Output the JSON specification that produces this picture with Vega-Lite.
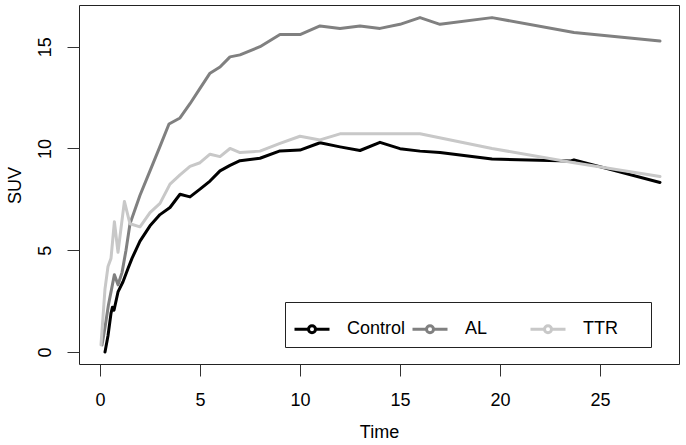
{
  "$schema": "https://vega.github.io/schema/vega-lite/v6.json",
  "width": 600,
  "height": 359,
  "autosize": {"type": "none"},
  "padding": {"left": 79, "top": 5, "right": 7, "bottom": 81},
  "config": {
    "font": "Liberation Sans",
    "view": {"stroke": "#222222", "strokeWidth": 1},
    "axis": {
      "grid": false,
      "domain": false,
      "tickColor": "#333333",
      "tickSize": 12,
      "labelFont": "Liberation Sans",
      "labelFontSize": 18,
      "labelColor": "#000000",
      "titleFont": "Liberation Sans",
      "titleFontSize": 18,
      "titleFontWeight": "normal",
      "titleColor": "#000000"
    },
    "legend": {
      "orient": "none",
      "legendX": 206,
      "legendY": 297,
      "direction": "horizontal",
      "columns": 3,
      "gridAlign": "all",
      "columnPadding": 0,
      "padding": 8,
      "strokeColor": "#222222",
      "fillColor": "#ffffff",
      "labelFont": "Liberation Sans",
      "labelFontSize": 18,
      "labelColor": "#000000",
      "labelOffset": 16,
      "titleOrient": "right",
      "titleFontSize": 18,
      "titlePadding": 25,
      "symbolType": "M-1,0H-0.2M0.2,0H1M0.2,0A0.2,0.2 0 1 1 -0.2,0A0.2,0.2 0 1 1 0.2,0",
      "symbolSize": 1225,
      "symbolStrokeWidth": 3,
      "symbolFillColor": "#ffffff"
    }
  },
  "data": {
    "values": [
      {"group": "Control", "time": 0.25, "suv": 0.0},
      {"group": "Control", "time": 0.4, "suv": 0.8},
      {"group": "Control", "time": 0.55, "suv": 1.9},
      {"group": "Control", "time": 0.62, "suv": 2.2},
      {"group": "Control", "time": 0.7, "suv": 2.05},
      {"group": "Control", "time": 0.9, "suv": 2.95},
      {"group": "Control", "time": 1.15, "suv": 3.45},
      {"group": "Control", "time": 1.4, "suv": 4.1},
      {"group": "Control", "time": 1.6, "suv": 4.6},
      {"group": "Control", "time": 2.0, "suv": 5.45},
      {"group": "Control", "time": 2.5, "suv": 6.2},
      {"group": "Control", "time": 3.0, "suv": 6.75},
      {"group": "Control", "time": 3.5, "suv": 7.1},
      {"group": "Control", "time": 4.0, "suv": 7.75},
      {"group": "Control", "time": 4.5, "suv": 7.62},
      {"group": "Control", "time": 5.0, "suv": 8.0},
      {"group": "Control", "time": 5.5, "suv": 8.4},
      {"group": "Control", "time": 6.0, "suv": 8.9},
      {"group": "Control", "time": 6.5, "suv": 9.17},
      {"group": "Control", "time": 7.0, "suv": 9.4},
      {"group": "Control", "time": 8.0, "suv": 9.52},
      {"group": "Control", "time": 9.0, "suv": 9.88},
      {"group": "Control", "time": 10.0, "suv": 9.92},
      {"group": "Control", "time": 11.0, "suv": 10.28},
      {"group": "Control", "time": 12.0, "suv": 10.08},
      {"group": "Control", "time": 13.0, "suv": 9.9},
      {"group": "Control", "time": 14.0, "suv": 10.3},
      {"group": "Control", "time": 15.0, "suv": 9.99},
      {"group": "Control", "time": 16.0, "suv": 9.87},
      {"group": "Control", "time": 17.0, "suv": 9.8},
      {"group": "Control", "time": 19.6, "suv": 9.48},
      {"group": "Control", "time": 23.5, "suv": 9.38},
      {"group": "Control", "time": 23.7, "suv": 9.44},
      {"group": "Control", "time": 28.0, "suv": 8.33},
      {"group": "AL", "time": 0.1, "suv": 0.35},
      {"group": "AL", "time": 0.25, "suv": 1.2},
      {"group": "AL", "time": 0.42, "suv": 2.3},
      {"group": "AL", "time": 0.6, "suv": 3.2},
      {"group": "AL", "time": 0.72, "suv": 3.8},
      {"group": "AL", "time": 0.9, "suv": 3.3},
      {"group": "AL", "time": 1.1, "suv": 3.9},
      {"group": "AL", "time": 1.3, "suv": 5.0},
      {"group": "AL", "time": 1.5, "suv": 6.3},
      {"group": "AL", "time": 2.0, "suv": 7.7},
      {"group": "AL", "time": 2.5, "suv": 8.9},
      {"group": "AL", "time": 3.0, "suv": 10.1},
      {"group": "AL", "time": 3.45, "suv": 11.2},
      {"group": "AL", "time": 4.0, "suv": 11.5},
      {"group": "AL", "time": 4.5, "suv": 12.2},
      {"group": "AL", "time": 5.0, "suv": 12.95},
      {"group": "AL", "time": 5.5, "suv": 13.7},
      {"group": "AL", "time": 6.0, "suv": 14.0},
      {"group": "AL", "time": 6.5, "suv": 14.5},
      {"group": "AL", "time": 7.0, "suv": 14.6},
      {"group": "AL", "time": 8.0, "suv": 15.0},
      {"group": "AL", "time": 9.0, "suv": 15.6},
      {"group": "AL", "time": 10.0, "suv": 15.6},
      {"group": "AL", "time": 11.0, "suv": 16.02},
      {"group": "AL", "time": 12.0, "suv": 15.9},
      {"group": "AL", "time": 13.0, "suv": 16.02},
      {"group": "AL", "time": 14.0, "suv": 15.9},
      {"group": "AL", "time": 15.0, "suv": 16.1},
      {"group": "AL", "time": 16.0, "suv": 16.43},
      {"group": "AL", "time": 17.0, "suv": 16.1},
      {"group": "AL", "time": 19.6, "suv": 16.43},
      {"group": "AL", "time": 23.7, "suv": 15.7},
      {"group": "AL", "time": 28.0, "suv": 15.28},
      {"group": "TTR", "time": 0.05, "suv": 0.35},
      {"group": "TTR", "time": 0.25, "suv": 3.1},
      {"group": "TTR", "time": 0.4, "suv": 4.2},
      {"group": "TTR", "time": 0.55, "suv": 4.6},
      {"group": "TTR", "time": 0.72, "suv": 6.4},
      {"group": "TTR", "time": 0.9, "suv": 4.9},
      {"group": "TTR", "time": 1.22, "suv": 7.4},
      {"group": "TTR", "time": 1.5, "suv": 6.3},
      {"group": "TTR", "time": 2.0, "suv": 6.15},
      {"group": "TTR", "time": 2.5, "suv": 6.85},
      {"group": "TTR", "time": 3.0, "suv": 7.3},
      {"group": "TTR", "time": 3.5, "suv": 8.25},
      {"group": "TTR", "time": 4.0, "suv": 8.7},
      {"group": "TTR", "time": 4.5, "suv": 9.12},
      {"group": "TTR", "time": 5.0, "suv": 9.3},
      {"group": "TTR", "time": 5.5, "suv": 9.72},
      {"group": "TTR", "time": 6.0, "suv": 9.6},
      {"group": "TTR", "time": 6.5, "suv": 10.0},
      {"group": "TTR", "time": 7.0, "suv": 9.8},
      {"group": "TTR", "time": 8.0, "suv": 9.87},
      {"group": "TTR", "time": 9.0, "suv": 10.25},
      {"group": "TTR", "time": 10.0, "suv": 10.6},
      {"group": "TTR", "time": 11.0, "suv": 10.42},
      {"group": "TTR", "time": 12.0, "suv": 10.72},
      {"group": "TTR", "time": 16.0, "suv": 10.72},
      {"group": "TTR", "time": 19.6, "suv": 10.0},
      {"group": "TTR", "time": 23.7, "suv": 9.3},
      {"group": "TTR", "time": 28.0, "suv": 8.62}
    ]
  },
  "mark": {"type": "line", "strokeWidth": 3, "strokeJoin": "round", "strokeCap": "round"},
  "encoding": {
    "x": {
      "field": "time",
      "type": "quantitative",
      "title": "Time",
      "scale": {"domain": [-1.05, 28.95], "nice": false, "zero": false},
      "axis": {"values": [0, 5, 10, 15, 20, 25], "labelPadding": 15, "titlePadding": 14}
    },
    "y": {
      "field": "suv",
      "type": "quantitative",
      "title": "SUV",
      "scale": {"domain": [-0.59, 17.05], "nice": false, "zero": false},
      "axis": {
        "values": [0, 5, 10, 15],
        "labelAngle": 270,
        "labelAlign": "center",
        "labelBaseline": "middle",
        "labelPadding": 22,
        "titleX": -64,
        "titleY": 180,
        "titleAngle": 270,
        "titleAlign": "center",
        "titleBaseline": "middle"
      }
    },
    "color": {
      "field": "group",
      "type": "nominal",
      "title": " ",
      "sort": ["Control", "AL", "TTR"],
      "scale": {"domain": ["Control", "AL", "TTR"], "range": ["#000000", "#808080", "#c8c8c8"]}
    }
  }
}
